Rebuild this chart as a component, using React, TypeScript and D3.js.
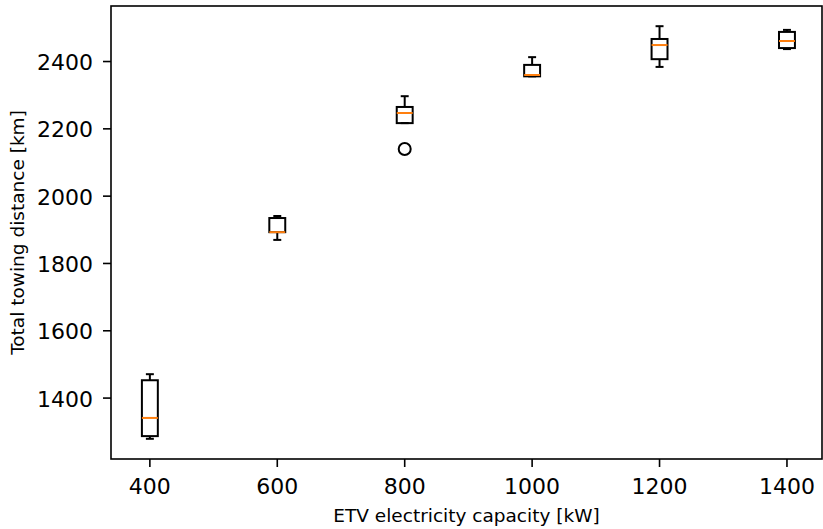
import { useRef, useEffect } from 'react';
import * as d3 from 'd3';

// Box statistics (km)
const CAPACITIES = [400, 600, 800, 1000, 1200, 1400];
const WHISK_LO = [1279, 1870, 2217, 2356, 2384, 2437];
const Q1 = [1287, 1893, 2217, 2356, 2407, 2440];
const MEDIAN = [1341, 1893, 2247, 2360, 2449, 2461];
const Q3 = [1453, 1935, 2265, 2390, 2467, 2488];
const WHISK_HI = [1471, 1941, 2297, 2413, 2505, 2494];
const OUTLIERS = [{ cap: 800, value: 2140 }];

const X_TICKS = [400, 600, 800, 1000, 1200, 1400];
const Y_TICKS = [1400, 1600, 1800, 2000, 2200, 2400];

export default function App() {
  const ref = useRef<SVGSVGElement>(null);

  useEffect(() => {
    const svg = ref.current;
    if (!svg) return;
    const W = 823, H = 529;
    const padL = 111, padT = 6, padR = 1, padB = 70;
    const x0 = padL, x1 = W - padR, y0 = padT, y1 = H - padB;

    d3.select(svg).selectAll('*').remove();
    const g = d3.select(svg).append('g');
    const font = 'DejaVu Sans, sans-serif';

    const x = d3.scaleLinear().domain([339, 1455]).range([x0, x1]);
    const y = d3.scaleLinear().domain([1219, 2565]).range([y1, y0]);

    const boxW = x(412.5) - x(387.5);
    const capW = boxW / 2;

    CAPACITIES.forEach((c, i) => {
      const cx = x(c);
      // whiskers
      g.append('line').attr('x1', cx).attr('x2', cx).attr('y1', y(Q3[i])).attr('y2', y(WHISK_HI[i]))
        .attr('stroke', '#000').attr('stroke-width', 2);
      g.append('line').attr('x1', cx).attr('x2', cx).attr('y1', y(Q1[i])).attr('y2', y(WHISK_LO[i]))
        .attr('stroke', '#000').attr('stroke-width', 2);
      // caps
      [WHISK_HI[i], WHISK_LO[i]].forEach((v) => {
        g.append('line').attr('x1', cx - capW / 2).attr('x2', cx + capW / 2).attr('y1', y(v)).attr('y2', y(v))
          .attr('stroke', '#000').attr('stroke-width', 2);
      });
      // box
      g.append('rect').attr('x', cx - boxW / 2).attr('y', y(Q3[i]))
        .attr('width', boxW).attr('height', y(Q1[i]) - y(Q3[i]))
        .attr('fill', 'none').attr('stroke', '#000').attr('stroke-width', 2);
      // median
      g.append('line').attr('x1', cx - boxW / 2).attr('x2', cx + boxW / 2).attr('y1', y(MEDIAN[i])).attr('y2', y(MEDIAN[i]))
        .attr('stroke', '#ff7f0e').attr('stroke-width', 2);
    });

    OUTLIERS.forEach((o) => {
      g.append('circle').attr('cx', x(o.cap)).attr('cy', y(o.value)).attr('r', 6)
        .attr('fill', 'none').attr('stroke', '#000').attr('stroke-width', 2);
    });

    // Frame
    g.append('rect').attr('x', x0).attr('y', y0).attr('width', x1 - x0).attr('height', y1 - y0)
      .attr('fill', 'none').attr('stroke', '#000').attr('stroke-width', 1.6);

    // X ticks
    X_TICKS.forEach((v) => {
      g.append('line').attr('x1', x(v)).attr('x2', x(v)).attr('y1', y1).attr('y2', y1 + 8)
        .attr('stroke', '#000').attr('stroke-width', 1.6);
      g.append('text').attr('x', x(v)).attr('y', y1 + 35).attr('text-anchor', 'middle')
        .attr('font-family', font).attr('font-size', 22).attr('fill', '#000').text(v);
    });
    // Y ticks
    Y_TICKS.forEach((v) => {
      g.append('line').attr('x1', x0 - 8).attr('x2', x0).attr('y1', y(v)).attr('y2', y(v))
        .attr('stroke', '#000').attr('stroke-width', 1.6);
      g.append('text').attr('x', x0 - 18).attr('y', y(v) + 8.5).attr('text-anchor', 'end')
        .attr('font-family', font).attr('font-size', 22).attr('fill', '#000').text(v);
    });

    // Axis labels
    g.append('text').attr('x', (x0 + x1) / 2).attr('y', 522).attr('text-anchor', 'middle')
      .attr('font-family', font).attr('font-size', 18.5).attr('fill', '#000').text('ETV electricity capacity [kW]');
    g.append('text').attr('transform', `translate(24,${(y0 + y1) / 2}) rotate(-90)`).attr('text-anchor', 'middle')
      .attr('font-family', font).attr('font-size', 18.5).attr('fill', '#000').text('Total towing distance [km]');
  }, []);

  return (
    <svg ref={ref} width={823} height={529} style={{ position: 'absolute', left: 0, top: 0, background: '#fff' }} />
  );
}
